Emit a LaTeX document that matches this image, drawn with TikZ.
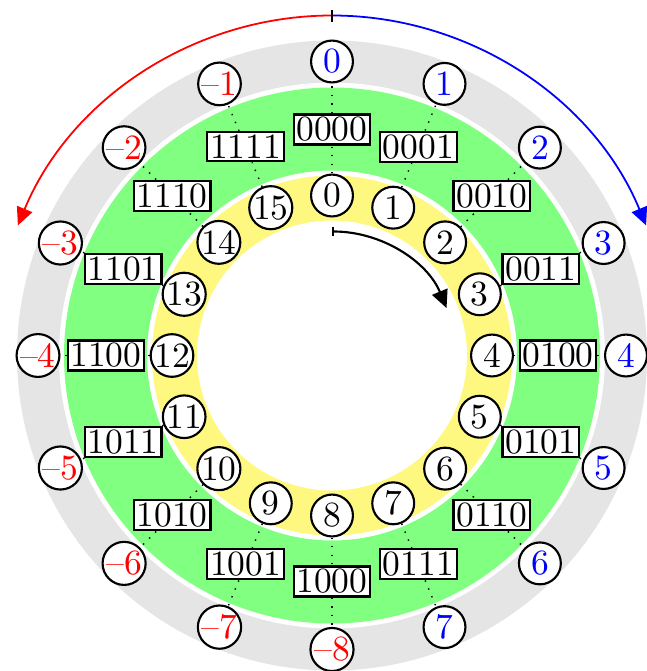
\documentclass[tikz,border=0pt]{standalone}
\usetikzlibrary{arrows.meta}
\begin{document}
\begin{tikzpicture}[x=0.2817pt,y=0.2817pt,
  band/.style={even odd rule},
  numc/.style={circle,draw,fill=white,semithick,minimum size=11.8pt,inner sep=0pt},
  binbox/.style={rectangle,draw,fill=white,semithick,inner sep=0.8pt},
  conn/.style={dotted},
  wrap/.style={line width=0.5pt,-{Triangle[length=5pt,width=4.6pt]}}]
\useasboundingbox (-332,-315.5) rectangle (315,355.5);
\coordinate (c) at (0,0);
% the three coloured bands
\fill[gray!20,band] (c) circle[radius=315] circle[radius=273];
\fill[green!50,band] (c) circle[radius=268] circle[radius=185];
\fill[yellow!50,band] (c) circle[radius=180] circle[radius=135];
% unsigned value, bit pattern, signed value
\foreach \k/\b/\v/\col in {0/0000/0/blue,1/0001/1/blue,2/0010/2/blue,3/0011/3/blue,
  4/0100/4/blue,5/0101/5/blue,6/0110/6/blue,7/0111/7/blue,
  8/1000/--8/red,9/1001/--7/red,10/1010/--6/red,11/1011/--5/red,
  12/1100/--4/red,13/1101/--3/red,14/1110/--2/red,15/1111/--1/red}{
  \node[numc] (in\k) at ({90-22.5*\k}:160) {\k};
  \node[binbox] (bin\k) at ({90-22.5*\k}:226) {\b};
  \node[numc,text=\col] (out\k) at ({90-22.5*\k}:294) {\v};
  \draw[conn] (in\k) -- (bin\k) -- (out\k);
}
% direction arrows
\coordinate (tp) at (90:340);
\coordinate (tpa) at (90:334);
\coordinate (tpb) at (90:346);
\draw[wrap,red] (tp) arc[start angle=90,end angle=157.5,radius=340];
\draw[wrap,blue] (tp) arc[start angle=90,end angle=22.5,radius=340];
\draw[line width=0.6pt] (tpa) -- (tpb);
\coordinate (st) at (90:124);
\draw[line width=0.6pt,{Bar[width=2.6pt]}-{Triangle[length=5pt,width=4.6pt]}] (st) arc[start angle=90,end angle=22.5,radius=124];
\end{tikzpicture}
\end{document}
